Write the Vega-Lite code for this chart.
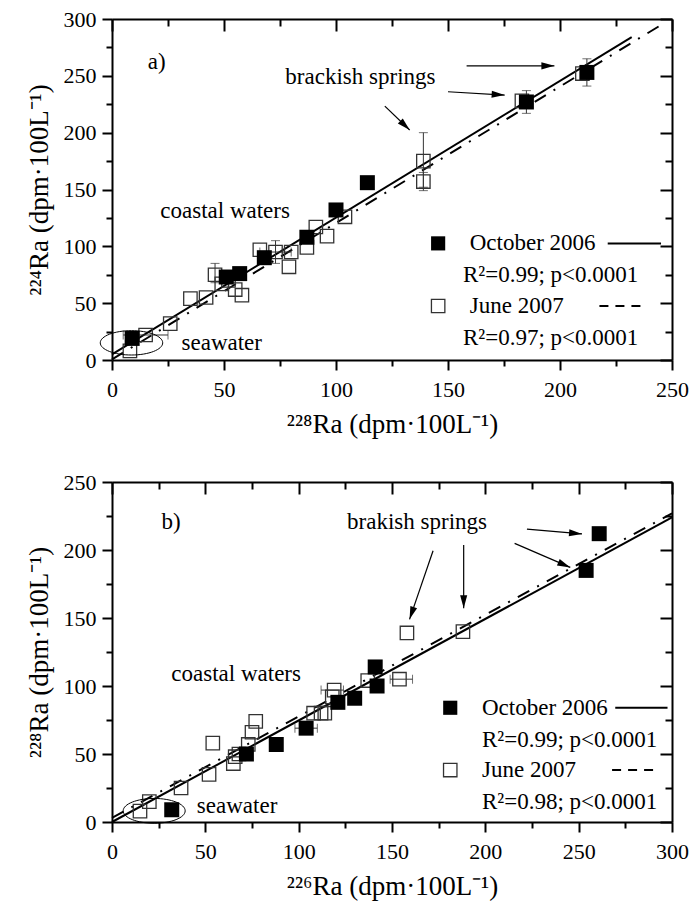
{
  "$schema": "https://vega.github.io/schema/vega-lite/v6.json",
  "background": "white",
  "padding": {"left": 25, "top": 8, "right": 4, "bottom": 10},
  "bounds": "flush",
  "spacing": 122,
  "config": {
    "view": {"stroke": null},
    "font": "Liberation Serif",
    "axis": {
      "grid": false,
      "domainColor": "black",
      "domainWidth": 2,
      "tickColor": "black",
      "tickWidth": 2,
      "labelFont": "Liberation Serif",
      "labelFontSize": 22,
      "labelColor": "black",
      "labelFlush": false,
      "labelOverlap": false,
      "titleFont": "Liberation Serif",
      "titleFontSize": 27,
      "titleFontWeight": "normal",
      "titleColor": "black"
    }
  },
  "datasets": {
    "a_open": [
      {"x": 8, "y": 8}, {"x": 15, "y": 22}, {"x": 26, "y": 32}, {"x": 35, "y": 54}, {"x": 42, "y": 55},
      {"x": 46, "y": 75}, {"x": 49, "y": 67}, {"x": 52, "y": 70}, {"x": 55, "y": 62}, {"x": 58, "y": 57},
      {"x": 66, "y": 97}, {"x": 73, "y": 95}, {"x": 80, "y": 95}, {"x": 79, "y": 82}, {"x": 87, "y": 99},
      {"x": 91, "y": 117}, {"x": 96, "y": 109}, {"x": 104, "y": 126}, {"x": 139, "y": 175}, {"x": 139, "y": 157},
      {"x": 183, "y": 228}, {"x": 210, "y": 252}
    ],
    "a_fill": [
      {"x": 9, "y": 19}, {"x": 51, "y": 73}, {"x": 57, "y": 76}, {"x": 68, "y": 90}, {"x": 87, "y": 108},
      {"x": 100, "y": 132}, {"x": 114, "y": 156}, {"x": 185, "y": 227}, {"x": 212, "y": 253}
    ],
    "a_verr": [
      {"x": 139, "lo": 152, "hi": 200}, {"x": 139, "lo": 149, "hi": 165}, {"x": 185, "lo": 217, "hi": 237},
      {"x": 212, "lo": 241, "hi": 265}, {"x": 73, "lo": 85, "hi": 105}, {"x": 46, "lo": 68, "hi": 85}
    ],
    "a_herr": [
      {"y": 22, "lo": 5, "hi": 25}, {"y": 95, "lo": 66, "hi": 80}
    ],
    "b_open": [
      {"x": 15, "y": 8}, {"x": 20, "y": 15}, {"x": 37, "y": 25}, {"x": 52, "y": 35}, {"x": 54, "y": 58},
      {"x": 65, "y": 43}, {"x": 66, "y": 48}, {"x": 68, "y": 50}, {"x": 73, "y": 57}, {"x": 75, "y": 66},
      {"x": 77, "y": 74}, {"x": 108, "y": 80}, {"x": 112, "y": 80}, {"x": 114, "y": 80}, {"x": 118, "y": 92},
      {"x": 119, "y": 97}, {"x": 137, "y": 104}, {"x": 154, "y": 105}, {"x": 158, "y": 139}, {"x": 188, "y": 140}
    ],
    "b_fill": [
      {"x": 32, "y": 9}, {"x": 72, "y": 50}, {"x": 88, "y": 57}, {"x": 104, "y": 69}, {"x": 121, "y": 88},
      {"x": 130, "y": 91}, {"x": 141, "y": 114}, {"x": 142, "y": 100}, {"x": 254, "y": 185}, {"x": 261, "y": 212}
    ],
    "b_herr": [
      {"y": 105, "lo": 149, "hi": 161}, {"y": 69, "lo": 98, "hi": 110}, {"y": 97, "lo": 112, "hi": 124}
    ]
  },
  "vconcat": [
    {
      "width": 560,
      "height": 341,
      "resolve": {"axis": {"x": "independent", "y": "independent"}},
      "encoding": {
        "x": {"field": "x", "type": "quantitative", "scale": {"domain": [0, 250], "nice": false, "zero": false}, "axis": null},
        "y": {"field": "y", "type": "quantitative", "scale": {"domain": [0, 300], "nice": false, "zero": false}, "axis": null}
      },
      "layer": [
        {
          "data": {"values": [{"x": 0, "y": 0}]},
          "mark": {"type": "point", "opacity": 0},
          "encoding": {
            "x": {"field": "x", "type": "quantitative", "scale": {"domain": [0, 250], "nice": false, "zero": false},
              "axis": {"orient": "bottom", "values": [0, 25, 50, 75, 100, 125, 150, 175, 200, 225, 250],
                "labelExpr": "datum.value % 50 === 0 ? datum.label : ''",
                "tickSize": {"condition": {"test": "datum.value % 50 !== 0", "value": 6}, "value": 10},
                "labelPadding": 9, "titlePadding": 11, "title": "²²⁸Ra (dpm·100L⁻¹)"}},
            "y": {"field": "y", "type": "quantitative", "scale": {"domain": [0, 300], "nice": false, "zero": false},
              "axis": {"orient": "left", "values": [0, 25, 50, 75, 100, 125, 150, 175, 200, 225, 250, 275, 300],
                "labelExpr": "datum.value % 50 === 0 ? datum.label : ''",
                "tickSize": {"condition": {"test": "datum.value % 50 !== 0", "value": 6}, "value": 10},
                "labelPadding": 6, "titlePadding": 10, "title": "²²⁴Ra (dpm·100L⁻¹)"}}
          }
        },
        {
          "data": {"values": [{"x": 0, "y": 0}]},
          "mark": {"type": "point", "opacity": 0},
          "encoding": {
            "x": {"field": "x", "type": "quantitative", "scale": {"domain": [0, 250], "nice": false, "zero": false},
              "axis": {"orient": "bottom", "offset": -341, "values": [0, 25, 50, 75, 100, 125, 150, 175, 200, 225, 250],
                "labels": false, "title": null,
                "tickSize": {"condition": {"test": "datum.value % 50 !== 0", "value": 7}, "value": 12}}},
            "y": {"field": "y", "type": "quantitative", "scale": {"domain": [0, 300], "nice": false, "zero": false},
              "axis": {"orient": "left", "offset": -560, "values": [0, 25, 50, 75, 100, 125, 150, 175, 200, 225, 250, 275, 300],
                "labels": false, "title": null,
                "tickSize": {"condition": {"test": "datum.value % 50 !== 0", "value": 7}, "value": 12}}}
          }
        },
        {
          "data": {"values": [{"x": 0, "y": 5, "x2": 232, "y2": 284}]},
          "mark": {"type": "rule", "color": "black", "strokeWidth": 2},
          "encoding": {"x2": {"field": "x2"}, "y2": {"field": "y2"}}
        },
        {
          "data": {"values": [{"x": 0, "y": 0.5, "x2": 245, "y2": 294.6}]},
          "mark": {"type": "rule", "color": "black", "strokeWidth": 2, "strokeDash": [13, 9, 2, 9]},
          "encoding": {"x2": {"field": "x2"}, "y2": {"field": "y2"}}
        },
        {
          "data": {"name": "a_verr"},
          "mark": {"type": "errorbar", "ticks": true, "color": "#333", "thickness": 1, "size": 9},
          "encoding": {
            "x": {"field": "x", "type": "quantitative"},
            "y": {"field": "lo", "type": "quantitative"},
            "y2": {"field": "hi"}
          }
        },
        {
          "data": {"name": "a_herr"},
          "mark": {"type": "errorbar", "ticks": true, "color": "#333", "thickness": 1, "size": 9},
          "encoding": {
            "y": {"field": "y", "type": "quantitative"},
            "x": {"field": "lo", "type": "quantitative"},
            "x2": {"field": "hi"}
          }
        },
        {
          "data": {"name": "a_open"},
          "mark": {"type": "point", "shape": "square", "filled": false, "color": "#333", "strokeWidth": 1.3, "size": 180, "opacity": 1}
        },
        {
          "data": {"name": "a_fill"},
          "mark": {"type": "point", "shape": "square", "filled": true, "color": "black", "size": 225, "opacity": 1}
        },
        {
          "data": {"values": [{"x": 8.7, "y": 15.1}]},
          "mark": {"type": "point", "shape": "M -1 0 C -1 -0.215 -0.552 -0.39 0 -0.39 C 0.552 -0.39 1 -0.215 1 0 C 1 0.215 0.552 0.39 0 0.39 C -0.552 0.39 -1 0.215 -1 0 Z",
            "filled": false, "color": "black", "strokeWidth": 1, "size": 3900, "opacity": 1}
        },
        {
          "data": {"values": [
            {"x": 158.3, "y": 258.8, "x2": 197.5, "y2": 258.8},
            {"x": 150, "y": 236, "x2": 175.3, "y2": 233.1},
            {"x": 121.8, "y": 223.4, "x2": 132.9, "y2": 202.3}
          ]},
          "mark": {"type": "rule", "color": "black", "strokeWidth": 1.2},
          "encoding": {"x2": {"field": "x2"}, "y2": {"field": "y2"}}
        },
        {
          "data": {"values": [{"x": 197.5, "y": 258.8}]},
          "mark": {"type": "point", "shape": "M 0 0 L -2.2 -0.6 L -2.2 0.6 Z", "filled": true, "color": "black", "size": 140, "angle": 0, "opacity": 1}
        },
        {
          "data": {"values": [{"x": 175.3, "y": 233.1}]},
          "mark": {"type": "point", "shape": "M 0 0 L -2.2 -0.6 L -2.2 0.6 Z", "filled": true, "color": "black", "size": 140, "angle": 3.3, "opacity": 1}
        },
        {
          "data": {"values": [{"x": 132.9, "y": 202.3}]},
          "mark": {"type": "point", "shape": "M 0 0 L -2.2 -0.6 L -2.2 0.6 Z", "filled": true, "color": "black", "size": 140, "angle": 43.8, "opacity": 1}
        },
        {
          "data": {"values": [{"x": 145.6, "y": 102.6}]},
          "mark": {"type": "point", "shape": "square", "filled": true, "color": "black", "size": 200, "opacity": 1}
        },
        {
          "data": {"values": [{"x": 145.6, "y": 47.5}]},
          "mark": {"type": "point", "shape": "square", "filled": false, "color": "#333", "strokeWidth": 1.3, "size": 180, "opacity": 1}
        },
        {
          "data": {"values": [{"x": 221.3, "y": 102.6, "x2": 245.1}]},
          "mark": {"type": "rule", "color": "black", "strokeWidth": 2},
          "encoding": {"x2": {"field": "x2"}}
        },
        {
          "data": {"values": [{"x": 217.6, "y": 47.5, "x2": 238.4}]},
          "mark": {"type": "rule", "color": "black", "strokeWidth": 2, "strokeDash": [9, 7]},
          "encoding": {"x2": {"field": "x2"}}
        },
        {
          "data": {"values": [
            {"x": 20, "y": 262.4, "t": "a)"},
            {"x": 110.9, "y": 249, "t": "brackish springs"},
            {"x": 50.5, "y": 131.3, "t": "coastal waters"},
            {"x": 49, "y": 14.7, "t": "seawater"}
          ]},
          "mark": {"type": "text", "font": "Liberation Serif", "fontSize": 23, "align": "center", "baseline": "middle", "color": "black"},
          "encoding": {"text": {"field": "t"}}
        },
        {
          "data": {"values": [
            {"x": 159.7, "y": 102.6, "t": "October 2006"},
            {"x": 156.7, "y": 74.8, "t": "R²=0.99; p<0.0001"},
            {"x": 159.7, "y": 47.5, "t": "June 2007"},
            {"x": 156.7, "y": 19.1, "t": "R²=0.97; p<0.0001"}
          ]},
          "mark": {"type": "text", "font": "Liberation Serif", "fontSize": 23, "align": "left", "baseline": "middle", "color": "black"},
          "encoding": {"text": {"field": "t"}}
        }
      ]
    },
    {
      "width": 560,
      "height": 340,
      "resolve": {"axis": {"x": "independent", "y": "independent"}},
      "encoding": {
        "x": {"field": "x", "type": "quantitative", "scale": {"domain": [0, 300], "nice": false, "zero": false}, "axis": null},
        "y": {"field": "y", "type": "quantitative", "scale": {"domain": [0, 250], "nice": false, "zero": false}, "axis": null}
      },
      "layer": [
        {
          "data": {"values": [{"x": 0, "y": 0}]},
          "mark": {"type": "point", "opacity": 0},
          "encoding": {
            "x": {"field": "x", "type": "quantitative", "scale": {"domain": [0, 300], "nice": false, "zero": false},
              "axis": {"orient": "bottom", "values": [0, 25, 50, 75, 100, 125, 150, 175, 200, 225, 250, 275, 300],
                "labelExpr": "datum.value % 50 === 0 ? datum.label : ''",
                "tickSize": {"condition": {"test": "datum.value % 50 !== 0", "value": 6}, "value": 10},
                "labelPadding": 9, "titlePadding": 11, "title": "²²⁶Ra (dpm·100L⁻¹)"}},
            "y": {"field": "y", "type": "quantitative", "scale": {"domain": [0, 250], "nice": false, "zero": false},
              "axis": {"orient": "left", "values": [0, 25, 50, 75, 100, 125, 150, 175, 200, 225, 250],
                "labelExpr": "datum.value % 50 === 0 ? datum.label : ''",
                "tickSize": {"condition": {"test": "datum.value % 50 !== 0", "value": 6}, "value": 10},
                "labelPadding": 6, "titlePadding": 10, "title": "²²⁸Ra (dpm·100L⁻¹)"}}
          }
        },
        {
          "data": {"values": [{"x": 0, "y": 0}]},
          "mark": {"type": "point", "opacity": 0},
          "encoding": {
            "x": {"field": "x", "type": "quantitative", "scale": {"domain": [0, 300], "nice": false, "zero": false},
              "axis": {"orient": "bottom", "offset": -340, "values": [0, 25, 50, 75, 100, 125, 150, 175, 200, 225, 250, 275, 300],
                "labels": false, "title": null,
                "tickSize": {"condition": {"test": "datum.value % 50 !== 0", "value": 7}, "value": 12}}},
            "y": {"field": "y", "type": "quantitative", "scale": {"domain": [0, 250], "nice": false, "zero": false},
              "axis": {"orient": "left", "offset": -560, "values": [0, 25, 50, 75, 100, 125, 150, 175, 200, 225, 250],
                "labels": false, "title": null,
                "tickSize": {"condition": {"test": "datum.value % 50 !== 0", "value": 7}, "value": 12}}}
          }
        },
        {
          "data": {"values": [{"x": 0, "y": 0, "x2": 300, "y2": 224}]},
          "mark": {"type": "rule", "color": "black", "strokeWidth": 2},
          "encoding": {"x2": {"field": "x2"}, "y2": {"field": "y2"}}
        },
        {
          "data": {"values": [{"x": 0, "y": 3, "x2": 300, "y2": 227}]},
          "mark": {"type": "rule", "color": "black", "strokeWidth": 2, "strokeDash": [13, 9, 2, 9]},
          "encoding": {"x2": {"field": "x2"}, "y2": {"field": "y2"}}
        },
        {
          "data": {"name": "b_herr"},
          "mark": {"type": "errorbar", "ticks": true, "color": "#333", "thickness": 1, "size": 9},
          "encoding": {
            "y": {"field": "y", "type": "quantitative"},
            "x": {"field": "lo", "type": "quantitative"},
            "x2": {"field": "hi"}
          }
        },
        {
          "data": {"name": "b_open"},
          "mark": {"type": "point", "shape": "square", "filled": false, "color": "#333", "strokeWidth": 1.3, "size": 180, "opacity": 1}
        },
        {
          "data": {"name": "b_fill"},
          "mark": {"type": "point", "shape": "square", "filled": true, "color": "black", "size": 225, "opacity": 1}
        },
        {
          "data": {"values": [{"x": 22.6, "y": 8.2}]},
          "mark": {"type": "point", "shape": "M -1 0 C -1 -0.22 -0.552 -0.4 0 -0.4 C 0.552 -0.4 1 -0.22 1 0 C 1 0.22 0.552 0.4 0 0.4 C -0.552 0.4 -1 0.22 -1 0 Z",
            "filled": false, "color": "black", "strokeWidth": 1, "size": 3844, "opacity": 1}
        },
        {
          "data": {"values": [
            {"x": 222.3, "y": 215.4, "x2": 251.8, "y2": 211.8},
            {"x": 215.7, "y": 204.9, "x2": 245.5, "y2": 187.2},
            {"x": 172, "y": 199.4, "x2": 159.4, "y2": 149},
            {"x": 188.4, "y": 203.7, "x2": 188.4, "y2": 157.1}
          ]},
          "mark": {"type": "rule", "color": "black", "strokeWidth": 1.2},
          "encoding": {"x2": {"field": "x2"}, "y2": {"field": "y2"}}
        },
        {
          "data": {"values": [{"x": 251.8, "y": 211.8}]},
          "mark": {"type": "point", "shape": "M 0 0 L -2.2 -0.6 L -2.2 0.6 Z", "filled": true, "color": "black", "size": 140, "angle": 5.2, "opacity": 1}
        },
        {
          "data": {"values": [{"x": 245.5, "y": 187.2}]},
          "mark": {"type": "point", "shape": "M 0 0 L -2.2 -0.6 L -2.2 0.6 Z", "filled": true, "color": "black", "size": 140, "angle": 23.3, "opacity": 1}
        },
        {
          "data": {"values": [{"x": 159.4, "y": 149}]},
          "mark": {"type": "point", "shape": "M 0 0 L -2.2 -0.6 L -2.2 0.6 Z", "filled": true, "color": "black", "size": 140, "angle": 108.8, "opacity": 1}
        },
        {
          "data": {"values": [{"x": 188.4, "y": 157.1}]},
          "mark": {"type": "point", "shape": "M 0 0 L -2.2 -0.6 L -2.2 0.6 Z", "filled": true, "color": "black", "size": 140, "angle": 90, "opacity": 1}
        },
        {
          "data": {"values": [{"x": 181.2, "y": 84}]},
          "mark": {"type": "point", "shape": "square", "filled": true, "color": "black", "size": 200, "opacity": 1}
        },
        {
          "data": {"values": [{"x": 181.2, "y": 38.2}]},
          "mark": {"type": "point", "shape": "square", "filled": false, "color": "#333", "strokeWidth": 1.3, "size": 180, "opacity": 1}
        },
        {
          "data": {"values": [{"x": 269.6, "y": 84, "x2": 297.6}]},
          "mark": {"type": "rule", "color": "black", "strokeWidth": 2},
          "encoding": {"x2": {"field": "x2"}}
        },
        {
          "data": {"values": [{"x": 267.9, "y": 38.2, "x2": 292.8}]},
          "mark": {"type": "rule", "color": "black", "strokeWidth": 2, "strokeDash": [9, 7]},
          "encoding": {"x2": {"field": "x2"}}
        },
        {
          "data": {"values": [
            {"x": 31.7, "y": 220.8, "t": "b)"},
            {"x": 163.4, "y": 220.8, "t": "brakish springs"},
            {"x": 66.5, "y": 108.8, "t": "coastal waters"},
            {"x": 67, "y": 11.8, "t": "seawater"}
          ]},
          "mark": {"type": "text", "font": "Liberation Serif", "fontSize": 23, "align": "center", "baseline": "middle", "color": "black"},
          "encoding": {"text": {"field": "t"}}
        },
        {
          "data": {"values": [
            {"x": 198.2, "y": 84, "t": "October 2006"},
            {"x": 198.2, "y": 60.3, "t": "R²=0.99; p<0.0001"},
            {"x": 198.2, "y": 38.2, "t": "June 2007"},
            {"x": 198.2, "y": 14.9, "t": "R²=0.98; p<0.0001"}
          ]},
          "mark": {"type": "text", "font": "Liberation Serif", "fontSize": 23, "align": "left", "baseline": "middle", "color": "black"},
          "encoding": {"text": {"field": "t"}}
        }
      ]
    }
  ]
}
